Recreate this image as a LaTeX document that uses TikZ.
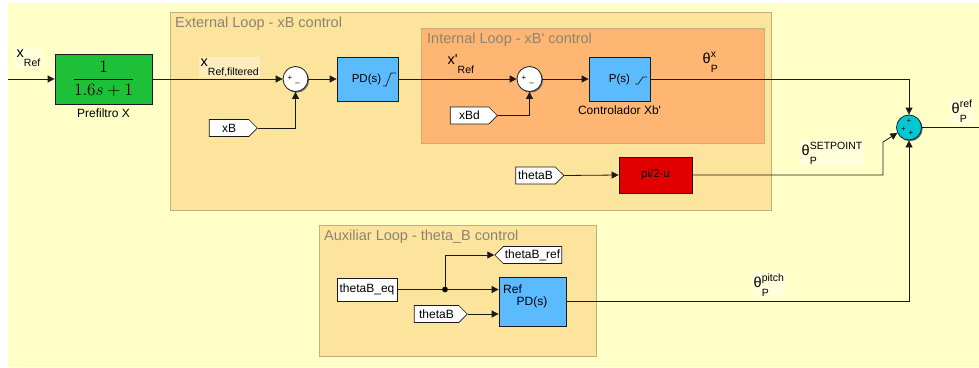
\documentclass[tikz,border=0pt]{standalone}
\usepackage{graphicx}
\usepackage{fontspec}
\setmainfont{Liberation Sans}
\usetikzlibrary{arrows.meta,shapes.symbols,shadows,calc}

\definecolor{canvas}{HTML}{FFFFC8}
\definecolor{areaY}{HTML}{FCE49C}
\definecolor{areaO}{HTML}{FFB673}
\definecolor{areaedge}{HTML}{C4AE7C}
\definecolor{areatext}{HTML}{8A8472}
\definecolor{pfgreen}{HTML}{1EC038}
\definecolor{ctrlblue}{HTML}{5CBBFF}
\definecolor{mapred}{HTML}{E00000}
\definecolor{sumcyan}{HTML}{00C8D2}
\definecolor{wire}{HTML}{1A1A1A}

% superscript / subscript pair stacked after a signal symbol
\newcommand{\supsub}[2]{{\fontsize{10.5}{12}\selectfont
  \setbox0\hbox{\raisebox{6pt}{#1}}\setbox2\hbox{\raisebox{-9pt}{#2}}%
  \ifdim\wd0>\wd2 \rlap{\box2}\box0\else\rlap{\box0}\box2\fi}}
\newcommand{\sigsub}[1]{\raisebox{-9pt}{\fontsize{10.5}{12}\selectfont #1}}

\begin{document}
\begin{tikzpicture}[x=1pt,y=-1pt, font=\fontsize{12}{14}\selectfont,
  wire/.style={draw=wire, line width=0.8pt},
  sig/.style={wire, -{Triangle[length=7pt,width=7pt]}},
  area/.style={draw=areaedge, line width=0.8pt},
  areatitle/.style={anchor=base west, inner sep=0pt, text=areatext, font=\fontsize{14.5}{16}\selectfont},
  bshadow/.style={general shadow={fill=black!55, shadow xshift=1.2pt, shadow yshift=-1.2pt}},
  block/.style={draw=wire, line width=0.8pt, inner sep=0pt, bshadow},
  sumnode/.style={circle, draw=wire, line width=0.8pt, minimum size=25pt, inner sep=0pt, bshadow},
  tagr/.style={signal, signal to=east, signal pointer angle=90, draw=wire, fill=white,
    line width=0.7pt, inner sep=0pt, minimum height=17pt},
  tagl/.style={signal, signal to=west, signal pointer angle=90, draw=wire, fill=white,
    line width=0.7pt, inner sep=0pt, minimum height=17pt},
  siglabel/.style={anchor=base west, inner sep=1.5pt, fill=white, fill opacity=0.35,
    text opacity=1, font=\fontsize{14.5}{16}\selectfont},
  sign/.style={inner sep=0pt, font=\fontsize{8}{9}\selectfont},
  caption/.style={anchor=north, inner sep=0pt},
  satur/.style={draw=wire, line width=0.7pt},
]
\useasboundingbox (0,0) rectangle (979,367);

% canvas
\fill[white] (0,0) rectangle (979,367);
\fill[canvas] (8,3) rectangle (979,367);

% areas
\filldraw[area, fill=areaY] (170,12) rectangle (771,210);
\node[areatitle] (extitle) at (175,27) {External Loop - xB control};
\filldraw[area, fill=areaO] (421,28) rectangle (764,143);
\node[areatitle] (intitle) at (427,43) {Internal Loop - xB\textquotesingle{} control};
\filldraw[area, fill=areaY] (319,225) rectangle (596,356);
\node[areatitle] (auxtitle) at (324,240) {Auxiliar Loop - theta\_B control};

% prefilter
\coordinate (inp) at (8,79);
\node[block, fill=pfgreen, minimum width=97pt, minimum height=50pt] (pf) at (103.5,79)
  {\scalebox{1.2}{\fontsize{14.4}{16}\selectfont$\displaystyle\frac{1}{1.6s+1}$}};
\node[caption] (pfcap) at (103.5,109) {Prefiltro X};

% external loop
\node[sumnode, fill=white] (s1) at (295.5,79) {};
\node[sign] (s1p) at (290,78.5) {+};
\node[sign] (s1m) at (297.5,84) {\textendash};
\node[tagr, minimum width=48pt] (xb) at (229,128) {xB};
\node[block, fill=ctrlblue, minimum width=61pt, minimum height=44pt] (pd1) at (367.5,79) {};
\node[inner sep=0pt, font=\fontsize{11.5}{13}\selectfont] (pd1t) at (366.5,80) {PD(s)};
\draw[satur] (383,86) -- (386,86) -- (391,73) -- (396,73);

% internal loop
\node[sumnode, fill=white] (s2) at (529.5,79) {};
\node[sign] (s2p) at (524,78.5) {+};
\node[sign] (s2m) at (531.5,84) {\textendash};
\node[tagr, minimum width=47pt] (xbd) at (469.5,115.5) {xBd};
\node[block, fill=ctrlblue, minimum width=61pt, minimum height=44pt] (ps) at (619.5,79) {};
\node[inner sep=0pt, font=\fontsize{11.5}{13}\selectfont] (pst) at (619.5,80) {P(s)};
\draw[satur] (635,84) -- (638,84) -- (643,77) -- (647,77);
\node[caption] (pscap) at (619.5,106) {Controlador Xb\textquotesingle};

% setpoint mapping
\node[tagr, minimum width=48pt] (tb1) at (535.5,175.5) {thetaB};
\node[block, fill=mapred, minimum width=73pt, minimum height=36pt, font=\fontsize{11.5}{13}\selectfont] (red) at (655.5,175) {pi/2-u};

% output summation
\node[sumnode, fill=sumcyan] (s3) at (909,127.5) {};
\node[sign] (s3a) at (909,121) {+};
\node[sign] (s3b) at (903.5,129) {+};
\node[sign] (s3c) at (911,133) {+};
\coordinate (outend) at (979,127.5);
\coordinate (bend) at (883,142);

% auxiliar loop
\node[draw=wire, fill=white, line width=0.7pt, inner sep=0pt, minimum width=60pt, minimum height=23pt] (tbeq) at (367,289.5) {thetaB\_eq};
\node[tagr, minimum width=53pt] (tb2) at (436.5,314) {thetaB};
\node[tagl, minimum width=67pt] (tbref) at (532.5,255) {thetaB\_ref};
\node[block, fill=ctrlblue, minimum width=67pt, minimum height=49pt] (pda) at (532.5,301.5) {};
\node[anchor=west, inner sep=0pt] (pdaref) at (503,289.5) {Ref};
\node[inner sep=0pt] (pdat) at (532,302) {PD(s)};
\coordinate (jn) at (445,289.5);

% signals
\draw[sig] (inp) -- (pf.west);
\draw[sig] (pf.east) -- (s1.west);
\draw[sig] (xb.east) -| (s1.south);
\draw[sig] (s1.east) -- (pd1.west);
\draw[sig] (pd1.east) -- (s2.west);
\draw[sig] (xbd.east) -| (s2.south);
\draw[sig] (s2.east) -- (ps.west);
\draw[sig] (ps.east) -| (s3.north);
\draw[sig] (tb1.east) -- (red.west);
\draw[sig] (red.east) -| (bend) -- (s3.205);
\draw[wire] (s3.east) -- (outend);
\draw[sig] (pda.east) -| (s3.south);
\draw[sig] (tbeq.east) -- (tbeq.east -| pda.west);
\draw[sig] (jn) |- (tbref.west);
\draw[sig] (tb2.east) -- (tb2.east -| pda.west);
\fill[wire] (jn) circle (2.5pt);

% signal labels
\node[siglabel] (lxref) at (15,57) {x\sigsub{Ref}};
\node[siglabel] (lxfilt) at (199,66) {x\sigsub{Ref,filtered}};
\node[siglabel, fill opacity=0] (lxp) at (446,64) {x\textquotesingle\sigsub{Ref}};
\node[siglabel, fill opacity=0] (lthx) at (701,63) {θ\supsub{x}{P}};
\node[siglabel] (lthsp) at (800,155) {θ\supsub{SETPOINT}{P}};
\node[siglabel] (lthref) at (950,113) {θ\supsub{ref}{P}};
\node[siglabel] (lthpitch) at (752,287) {θ\supsub{pitch}{P}};
\end{tikzpicture}
\end{document}
